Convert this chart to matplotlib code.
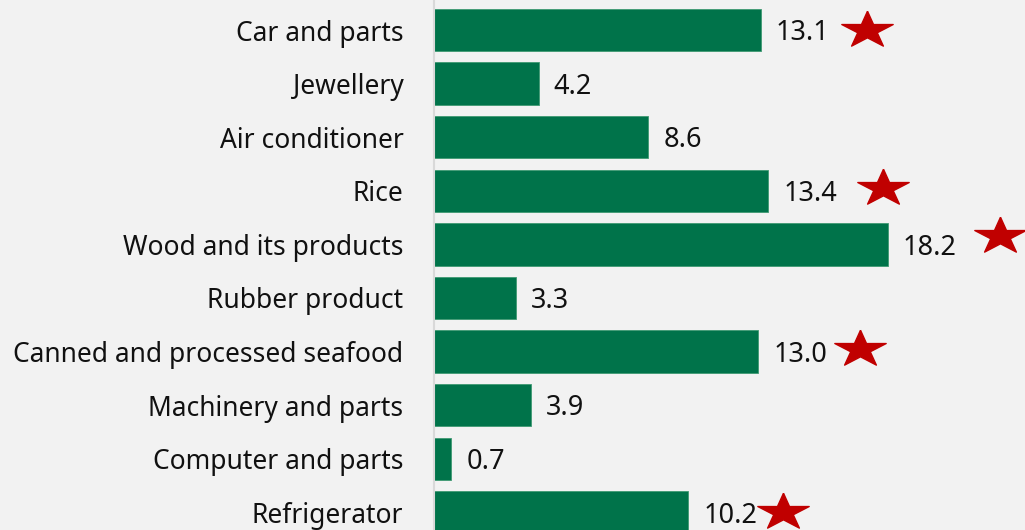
import numpy as np
import matplotlib.pyplot as plt

# data
categories = ["Car and parts", "Jewellery", "Air conditioner", "Rice",
              "Wood and its products", "Rubber product",
              "Canned and processed seafood", "Machinery and parts",
              "Computer and parts", "Refrigerator"]
values = [13.1, 4.2, 8.6, 13.4, 18.2, 3.3, 13.0, 3.9, 0.7, 10.2]
starred = [True, False, False, True, True, False, True, False, False, True]
star_gap = [4.25, 0, 0, 4.6, 4.5, 0, 4.1, 0, 0, 3.8]
star_lift = [0.0, 0, 0, 0.05, 0.15, 0, 0.05, 0, 0, 0.0]

bg = "#f2f2f2"
green = "#00734a"

plt.rcParams["font.family"] = ["Noto Sans", "DejaVu Sans"]

# wide, flat five point star like the office shape
ang = np.pi / 2 + np.arange(10) * np.pi / 5
rad = np.where(np.arange(10) % 2 == 0, 1.0, 0.38)
star = [(1.4 * r * np.cos(a), r * np.sin(a)) for r, a in zip(rad, ang)]
star.append(star[0])

fig = plt.figure(figsize=(10.25, 5.30), dpi=100, facecolor=bg)
ax = fig.add_axes([434 / 1025, 0, 1 - 434 / 1025, 1], facecolor=bg)

y = list(range(len(categories)))
ax.barh(y, values, height=0.79, color=green, edgecolor="#3f9a73", linewidth=0.6)

for i, v in enumerate(values):
    ax.text(v + 0.6, i + 0.06, f"{v:.1f}", va="center", ha="left",
            fontsize=19.5, color="#111111")
    if starred[i]:
        ax.plot(v + star_gap[i], i - star_lift[i], marker=star, markersize=37,
                color="#c00000", markeredgecolor="#c00000", clip_on=False)

ax.set_xlim(0, 23.7)
ax.set_ylim(9.33, -0.56)
ax.set_yticks(y)
ax.set_yticklabels(categories, fontsize=19, color="#111111")
ax.tick_params(axis="y", length=0, pad=22)
ax.set_xticks([])

for side in ["top", "right", "bottom"]:
    ax.spines[side].set_visible(False)
ax.spines["left"].set_color("#d9d9d9")
ax.spines["left"].set_linewidth(1.5)

fig.savefig("out.png", dpi=100, facecolor=bg)
